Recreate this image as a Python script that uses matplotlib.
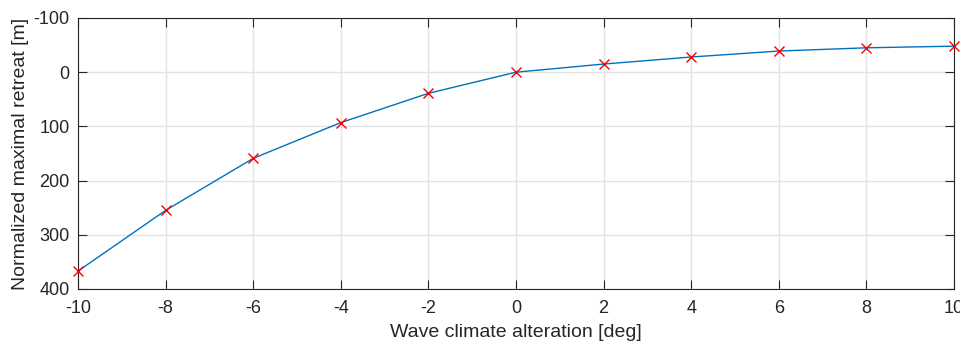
import matplotlib
matplotlib.use("Agg")
import matplotlib.pyplot as plt

# Dane
wave_alteration = [-10, -8, -6, -4, -2, 0, 2, 4, 6, 8, 10]
max_retreat = [367, 255, 159, 93, 39, 0, -15, -28, -39, -45, -48]

x_ticks = [-10, -8, -6, -4, -2, 0, 2, 4, 6, 8, 10]
y_ticks = [-100, 0, 100, 200, 300, 400]

plt.rcParams["font.family"] = ["Liberation Sans", "DejaVu Sans"]

fig = plt.figure(figsize=(9.6, 3.44), dpi=100)
ax = fig.add_axes([0.08125, 0.16, 0.9125, 0.7877])

ax.plot(wave_alteration, max_retreat, color="#0072BD", linewidth=1.0, zorder=3)
ax.plot(wave_alteration, max_retreat, "x", color="red", markersize=6.5,
        markeredgewidth=1.0, zorder=4, clip_on=False)

ax.set_xlim(-10, 10)
ax.set_ylim(400, -100)
ax.set_xticks(x_ticks)
ax.set_yticks(y_ticks)
ax.set_xticklabels([str(t) for t in x_ticks])
ax.set_yticklabels([str(t) for t in y_ticks])

ax.grid(True, color="#e3e3e3", linewidth=1.0)
ax.set_axisbelow(True)

ax.tick_params(direction="in", top=True, right=True, length=6.5,
               width=0.8, color="#262626", labelsize=13,
               labelcolor="#262626")
ax.tick_params(axis="x", pad=8)
ax.tick_params(axis="y", pad=6)
for spine in ax.spines.values():
    spine.set_color("#262626")
    spine.set_linewidth(0.8)

ax.set_xlabel("Wave climate alteration [deg]", fontsize=14, color="#262626",
              labelpad=5)
ax.set_ylabel("Normalized maximal retreat [m]", fontsize=14, color="#262626",
              labelpad=3)

fig.savefig("out.png", dpi=100)
